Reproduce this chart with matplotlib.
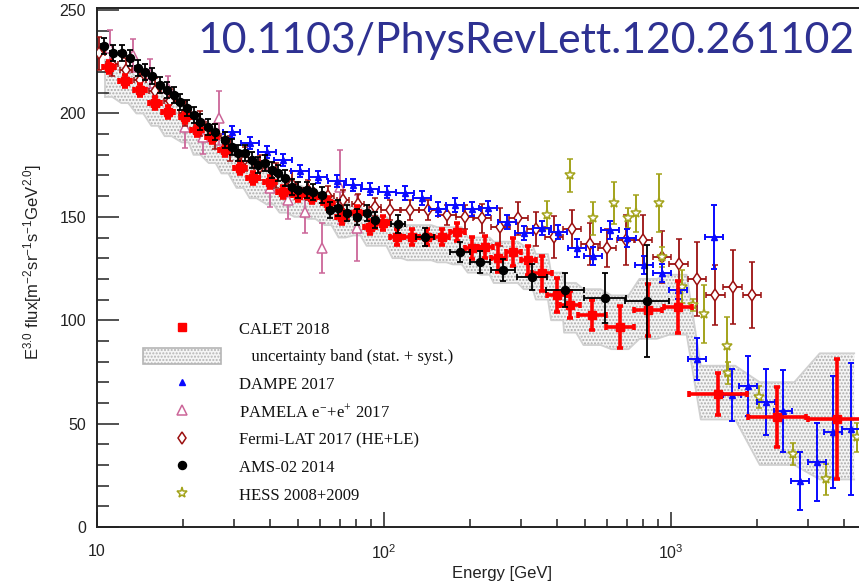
import numpy as np
import matplotlib
matplotlib.use('Agg')
import matplotlib.pyplot as plt
from matplotlib.lines import Line2D
from matplotlib.patches import Patch

# ---------------- data ----------------
calet_E = [11.0, 12.5, 14.1, 15.9, 17.7, 20.3, 22.3, 25.2, 27.9, 31.5, 35.0, 40.1, 44.5, 50.1,
           56.1, 63.8, 71.4, 80.5, 89.4, 99.2, 111, 125, 141, 159, 180, 203, 225, 250, 282,
           318, 355, 401, 445, 531, 664, 832, 1058, 1458, 2341, 3787]
calet_F = [222.4, 215.7, 211.3, 205.0, 200.7, 198.3, 192.0, 188.6, 182.3, 173.6, 168.8, 166.8,
           162.0, 160.5, 159.6, 156.7, 149.9, 151.8, 145.1, 147.0, 140.2, 140.2, 140.2, 140.2,
           142.6, 134.9, 135.4, 130.1, 133.0, 129.1, 122.8, 112.2, 107.4, 102.5, 96.7, 104.9,
           106.4, 64.3, 53.2, 52.2]
calet_err = [3, 3, 3, 3, 3, 3, 3, 3, 3, 3, 3, 3, 3, 3, 3, 3, 3.5, 3.5, 3.5, 3.5, 4, 4, 4, 4,
             4.5, 5.5, 5.5, 7, 7, 7, 8.5, 8, 6.5, 7.3, 10, 12.5, 12.5, 10, 14.5, 29]
calet_hw = [0.02] * 20 + [0.026] * 10 + [0.035] * 3 + [0.05] * 4 + [0.1] * 3
band_hi = [226, 222, 217, 212, 207, 203, 198, 193, 189, 182, 177, 172, 168, 165, 163, 160, 157,
           155, 152, 150, 147, 146, 146, 145, 145, 140, 140, 138, 138, 136, 132, 123, 118, 115,
           112, 120, 122, 78, 70, 84]
band_lo = [208, 205, 200, 194, 189, 186, 180, 176, 171, 164, 159, 156, 152, 150, 149, 146, 140,
           141, 136, 136, 130, 129, 129, 128, 127, 123, 122, 118, 118, 115, 110, 100, 94, 88,
           86, 91, 93, 52, 30, 23]

ams_E = [10.58, 11.37, 12.22, 13.03, 13.90, 14.70, 15.55, 16.58, 17.54, 18.55, 19.46, 20.59,
         21.78, 22.85, 24.36, 25.77, 27.93, 29.54, 31.00, 32.79, 34.68, 36.39, 38.49, 40.71,
         42.72, 45.18, 47.80, 50.15, 53.92, 56.57, 60.81, 64.86, 69.15, 74.32, 80.52, 87.28,
         93.03, 111.9, 139.0, 184.0, 216.0, 259.8, 328.0, 427.2, 588.9, 825]
ams_F = [232.6, 229.2, 229.2, 226.8, 221.9, 220.0, 218.1, 213.7, 211.3, 208.9, 205.5, 202.6,
         199.2, 195.8, 193.4, 191.0, 187.1, 183.8, 180.9, 180.9, 177.5, 175.0, 176.0, 172.6,
         171.2, 168.8, 164.4, 163.0, 163.0, 162.0, 160.5, 153.3, 154.3, 151.8, 149.9, 151.8,
         148.5, 146.5, 140.2, 133.0, 128.1, 124.3, 120.9, 114.6, 110.7, 109.3]
ams_err = [4.0] * 37 + [4.5, 4.5, 5, 5.5, 5.5, 6.5, 8, 12, 27]
ams_hw = [0.012] * 37 + [0.025, 0.03, 0.035, 0.035, 0.042, 0.052, 0.066, 0.073, 0.077]

dampe_E = [29.5, 34.1, 39.1, 44.5, 51.0, 58.9, 68.6, 78.0, 89.4, 102.4, 118.4, 135.7, 154.2,
           176.8, 202.6, 230.4, 268.3, 307.5, 355.3, 404.0, 470.4, 535.0, 613.0, 702.5, 805.3,
           930.2, 1058, 1232, 1412, 1632, 1855, 2143, 2456, 2815, 3227, 3668, 4239]
dampe_F = [191.0, 185.7, 181.3, 177.5, 172.1, 169.2, 167.3, 165.4, 163.4, 162.0, 161.5, 159.1,
           153.8, 155.7, 153.8, 154.3, 147.5, 142.2, 144.6, 142.6, 134.9, 131.0, 143.6, 139.7,
           126.7, 122.8, 114.6, 81.2, 140.2, 63.8, 68.2, 60.4, 56.1, 22.2, 31.4, 45.9, 47.4]
dampe_err = [3.0] * 10 + [3.5] * 10 + [4.5] * 7 + [10, 15.5, 12.5, 14.5, 16, 20, 14, 19, 27, 32]
dampe_hw = [0.03] * 37

pamela_E = [11.1, 13.35, 15.3, 17.68, 20.26, 23.4, 26.6, 40.1, 46.3, 53.1, 60.8, 70.3, 80.5]
pamela_F = [231.6, 228.2, 219.1, 212.3, 193.4, 188.6, 197.8, 163.9, 158.1, 152.3, 134.9, 164.4, 144.6]
pamela_err = [9, 8, 7, 6, 10, 8, 13, 9, 9, 10, 12, 18, 16]

fermi_E = [10.2, 11.27, 12.62, 14.12, 15.93, 17.96, 20.26, 22.85, 25.77, 29.07, 32.79, 36.98,
           42.05, 47.8, 54.3, 63.8, 72.0, 81.2, 93.0, 105.0, 123.2, 142.3, 165.8, 191.5, 219.5,
           253.7, 293.1, 338.6, 391.2, 451.9, 522.3, 598.4, 696.9, 798.9, 930.2, 1066, 1232,
           1424, 1644, 1915]
fermi_F = [229, 224, 221, 216, 211, 206, 200, 195, 189, 183, 178, 174, 170, 166, 163, 160, 158,
           156, 154.7, 153.3, 153.3, 153.3, 150.9, 149.9, 149.4, 145.1, 149.4, 144.1, 140.2,
           144.1, 136.8, 134.9, 138.8, 138.8, 130.6, 127.2, 119.9, 112.2, 116.1, 112.2]
fermi_err = [8, 6, 6, 6, 6, 6, 6, 6, 6, 6, 6, 6, 6, 6, 5, 5, 5, 5, 4.5, 5, 5, 5, 5, 6, 7, 9, 8,
             8, 10, 9, 10, 9, 12, 12, 12.5, 12, 18, 14.5, 18, 16]
fermi_hw = [0.02] * 19 + [0.033] * 21

hess_E = [369.8, 444.7, 535.0, 633.0, 708.2, 755.2, 908.1, 930.2, 1092, 1193, 1303, 1567, 1580,
          2026, 2662, 3468, 4447]
hess_F = [150.9, 170.2, 149.4, 156.7, 149.4, 151.8, 156.7, 130.6, 116.1, 107.4, 103.0, 87.5,
          74.5, 62.9, 35.3, 23.2, 43.5]
hess_err = [7, 8, 8, 10, 5, 9, 14, 5, 8, 3, 14, 14, 5.5, 5.5, 5.5, 7.5, 7]

x_ticks = [10, 100, 1000]
x_ticklabels = ['10', r'$\mathdefault{10^{2}}$', r'$\mathdefault{10^{3}}$']
y_ticks = [0, 50, 100, 150, 200, 250]

# ---------------- figure ----------------
W, H = 859, 584
fig = plt.figure(figsize=(W / 100, H / 100), dpi=100)
ax = fig.add_axes([97 / W, 1 - 527 / H, (859 - 97) / W, (527 - 8) / H])
ax.set_xscale('log')
ax.set_xlim(10, 4519)
ax.set_ylim(0, 251)


def xerr_from(E, hw):
    E = np.asarray(E, float)
    hw = np.asarray(hw, float)
    return [E - E * 10 ** (-hw), E * 10 ** hw - E]


# uncertainty band: flat over central part of each bin, sloped between
cE = np.asarray(calet_E, float)
hw = np.asarray(calet_hw, float)
xs, top, bot = [], [], []
for e, h, u, l in zip(cE, hw, band_hi, band_lo):
    xs += [e * 10 ** (-0.6 * h), e * 10 ** (0.6 * h)]
    top += [u, u]
    bot += [l, l]
xs = np.array(xs)
ax.fill_between(xs, bot, top, facecolor='#f5f5f5', edgecolor='none', zorder=1)
ax.fill_between(xs, bot, top, facecolor='none', edgecolor='#ababab', hatch='.....',
                linewidth=0, zorder=1.1)
ax.plot(xs, top, color='#d0d0d0', lw=1.3, zorder=1.2)
ax.plot(xs, bot, color='#d0d0d0', lw=1.3, zorder=1.2)
ax.plot([xs[0], xs[0]], [bot[0], top[0]], color='#d0d0d0', lw=1.3, zorder=1.2)

ekw = dict(linestyle='none', capsize=2.5)

ax.errorbar(pamela_E, pamela_F, yerr=pamela_err, fmt='^', color='#cc6699', mfc='white',
            mec='#cc6699', ms=6.5, mew=1.1, elinewidth=1.3, capthick=1.3, zorder=3, **ekw)
ax.errorbar(fermi_E, fermi_F, yerr=fermi_err, xerr=xerr_from(fermi_E, fermi_hw), fmt='d',
            color='#9b1010', mfc='white', mec='#9b1010', ms=6, mew=1.1, elinewidth=1.3,
            capthick=1.3, zorder=3.5, **ekw)
ax.errorbar(hess_E, hess_F, yerr=hess_err, fmt='*', color='#a3a31a', mfc='white',
            mec='#a3a31a', ms=8, mew=1.1, elinewidth=1.4, capthick=1.4, zorder=3.6, **ekw)
ax.errorbar(dampe_E, dampe_F, yerr=dampe_err, xerr=xerr_from(dampe_E, dampe_hw), fmt='^',
            color='#0a0aff', ms=5, elinewidth=1.4, capthick=1.4, zorder=4, **ekw)
ax.errorbar(calet_E, calet_F, yerr=calet_err, xerr=xerr_from(calet_E, calet_hw), fmt='s',
            color='#ff0000', ms=5.5, elinewidth=2.6, capthick=2.6, zorder=5, **ekw)
ax.errorbar(ams_E, ams_F, yerr=ams_err, xerr=xerr_from(ams_E, ams_hw), fmt='o',
            color='black', ms=5.8, elinewidth=1.3, capthick=1.3, zorder=6, **ekw)

# axes styling
for side in ['left', 'bottom', 'top']:
    ax.spines[side].set_linewidth(1.4)
    ax.spines[side].set_color('#222222')
ax.spines['right'].set_visible(False)

ax.set_xticks(x_ticks)
ax.set_xticklabels(x_ticklabels)
ax.xaxis.set_minor_locator(matplotlib.ticker.LogLocator(base=10, subs=np.arange(2, 10)))
ax.xaxis.set_minor_formatter(matplotlib.ticker.NullFormatter())
ax.set_yticks(y_ticks)
ax.yaxis.set_minor_locator(matplotlib.ticker.MultipleLocator(10))
ax.tick_params(axis='both', which='both', direction='in', width=1.1, colors='#222222',
               labelcolor='#222222', labelsize=11.5, top=False, right=False)
ax.tick_params(axis='x', which='major', length=11, pad=12)
ax.tick_params(axis='x', which='minor', length=6)
ax.tick_params(axis='y', which='major', length=16, pad=8)
ax.tick_params(axis='y', which='minor', length=8.5)
for lab in ax.get_xticklabels() + ax.get_yticklabels():
    lab.set_fontfamily('Liberation Sans')

ax.set_xlabel('Energy [GeV]', fontsize=12, family='Liberation Sans', color='#222222')
ax.xaxis.set_label_coords((502 - 97) / 762, (527 - 566) / 519)
ax.set_ylabel(r'$\mathdefault{E^{3.0}}$ flux[$\mathdefault{m^{-2}sr^{-1}s^{-1}GeV^{2.0}}$]',
              fontsize=12, family='Liberation Sans', color='#222222')
ax.yaxis.set_label_coords((44 - 97) / 762, (527 - 262) / 519)

# legend
handles = [
    Line2D([], [], marker='s', color='#ff0000', linestyle='none', ms=5.5),
    Patch(facecolor='#f5f5f5', edgecolor='#b5b5b5', hatch='.....', lw=1.2),
    Line2D([], [], marker='^', color='#0a0aff', linestyle='none', ms=5),
    Line2D([], [], marker='^', color='#cc6699', mfc='white', linestyle='none', ms=6.5, mew=1.1),
    Line2D([], [], marker='d', color='#9b1010', mfc='white', linestyle='none', ms=6, mew=1.1),
    Line2D([], [], marker='o', color='black', linestyle='none', ms=5.8),
    Line2D([], [], marker='*', color='#a3a31a', mfc='white', linestyle='none', ms=8, mew=1.1),
]
labels = ['CALET 2018', '   uncertainty band (stat. + syst.)', 'DAMPE 2017',
          r'PAMELA $\mathdefault{e^{-}\!+\!e^{+}}$ 2017', 'Fermi-LAT 2017 (HE+LE)',
          'AMS-02 2014', 'HESS 2008+2009']
leg = ax.legend(handles, labels, loc='upper left', bbox_to_anchor=((143 - 97) / 762, (527 - 320) / 519),
                frameon=False, borderpad=0, borderaxespad=0, handlelength=4.7, handleheight=1.1,
                handletextpad=1.05, labelspacing=0.6, prop={'family': 'Liberation Serif', 'size': 12})
for t in leg.get_texts():
    t.set_color('#111111')

# DOI text
fig.text(855 / W, 1 - 53 / H, '10.1103/PhysRevLett.120.261102', ha='right', va='baseline',
         fontsize=30.8, family='Lato', color='#2e3192')

fig.savefig('out.png', dpi=100)
